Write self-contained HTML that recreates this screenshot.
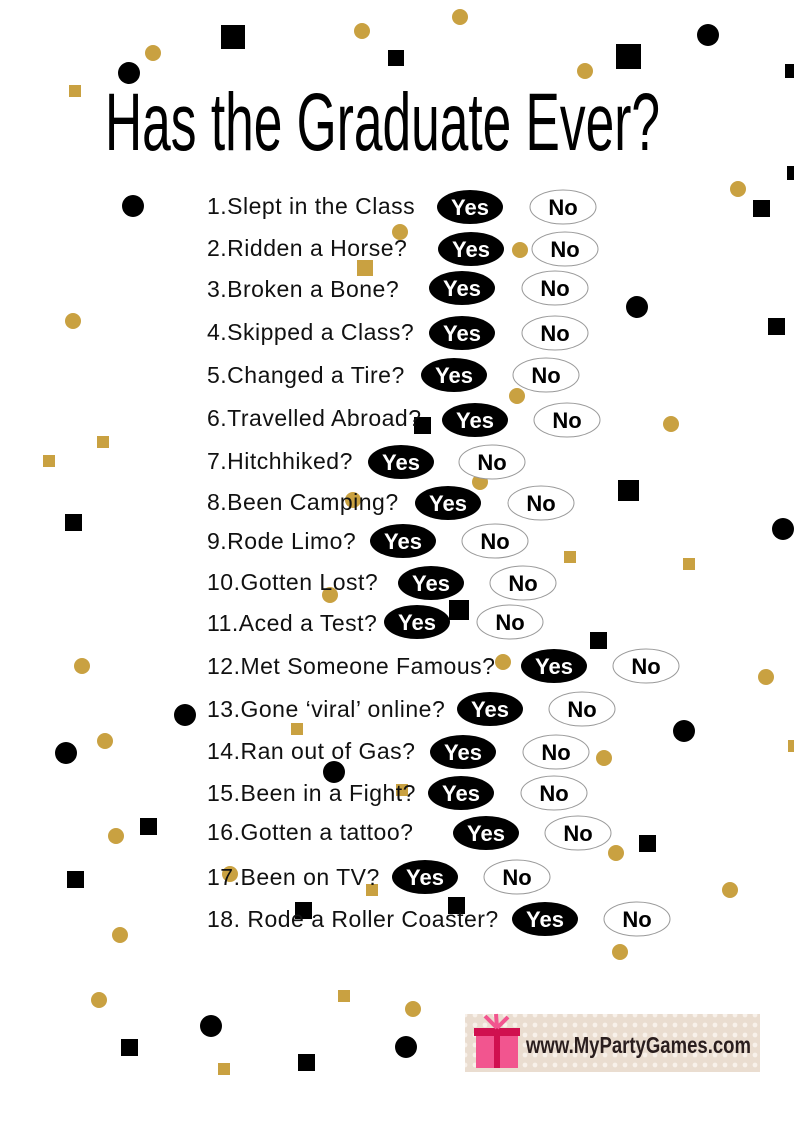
<!DOCTYPE html>
<html><head><meta charset="utf-8"><style>
html,body{margin:0;padding:0;background:#fff}
svg{display:block}
</style></head><body>
<svg width="794" height="1122" viewBox="0 0 794 1122" xmlns="http://www.w3.org/2000/svg">
<defs>
<pattern id="dots" width="10" height="10" patternUnits="userSpaceOnUse">
<rect width="10" height="10" fill="#eaddd0"/><circle cx="5" cy="5" r="2.4" fill="#f8f1ea"/>
</pattern>
</defs>
<g fill="#c9a141">
<circle cx="460" cy="17" r="8"/><circle cx="153" cy="53" r="8"/><circle cx="362" cy="31" r="8"/><circle cx="585" cy="71" r="8"/>
<rect x="69" y="85" width="12" height="12"/><circle cx="738" cy="189" r="8"/><circle cx="73" cy="321" r="8"/>
<circle cx="400" cy="232" r="8"/><circle cx="520" cy="250" r="8"/><rect x="357" y="260" width="16" height="16"/>
<circle cx="517" cy="396" r="8"/><circle cx="671" cy="424" r="8"/><rect x="97" y="436" width="12" height="12"/>
<rect x="43" y="455" width="12" height="12"/><circle cx="480" cy="482" r="8"/><rect x="564" y="551" width="12" height="12"/>
<rect x="683" y="558" width="12" height="12"/><circle cx="330" cy="595" r="8"/><circle cx="82" cy="666" r="8"/>
<circle cx="503" cy="662" r="8"/><circle cx="766" cy="677" r="8"/><rect x="291" y="723" width="12" height="12"/>
<circle cx="105" cy="741" r="8"/><circle cx="604" cy="758" r="8"/><rect x="396" y="784" width="12" height="12"/>
<circle cx="116" cy="836" r="8"/><circle cx="616" cy="853" r="8"/><circle cx="230" cy="874" r="8"/>
<rect x="366" y="884" width="12" height="12"/><circle cx="730" cy="890" r="8"/><circle cx="120" cy="935" r="8"/>
<circle cx="620" cy="952" r="8"/><circle cx="99" cy="1000" r="8"/><rect x="338" y="990" width="12" height="12"/>
<circle cx="413" cy="1009" r="8"/><rect x="218" y="1063" width="12" height="12"/><circle cx="353" cy="500" r="8"/>
<rect x="788" y="740" width="8" height="12"/>
</g>
<g fill="#000">
<circle cx="129" cy="73" r="11"/><rect x="221" y="25" width="24" height="24"/><rect x="388" y="50" width="16" height="16"/>
<rect x="616" y="44" width="25" height="25"/><circle cx="708" cy="35" r="11"/><circle cx="133" cy="206" r="11"/>
<rect x="753" y="200" width="17" height="17"/><circle cx="637" cy="307" r="11"/><rect x="768" y="318" width="17" height="17"/>
<circle cx="783" cy="529" r="11"/><rect x="618" y="480" width="21" height="21"/><rect x="65" y="514" width="17" height="17"/>
<rect x="449" y="600" width="20" height="20"/><rect x="590" y="632" width="17" height="17"/><circle cx="185" cy="715" r="11"/>
<circle cx="66" cy="753" r="11"/><circle cx="684" cy="731" r="11"/><circle cx="334" cy="772" r="11"/>
<rect x="140" y="818" width="17" height="17"/><rect x="639" y="835" width="17" height="17"/><rect x="67" y="871" width="17" height="17"/>
<rect x="295" y="902" width="17" height="17"/><rect x="448" y="897" width="17" height="17"/><circle cx="211" cy="1026" r="11"/>
<circle cx="406" cy="1047" r="11"/><rect x="121" y="1039" width="17" height="17"/><rect x="298" y="1054" width="17" height="17"/>
<rect x="414" y="417" width="17" height="17"/><rect x="785" y="64" width="12" height="14"/><rect x="787" y="166" width="10" height="14"/>
</g>
<text x="105" y="150" font-family="'Liberation Sans Narrow','Liberation Sans',sans-serif" font-size="82" textLength="555" lengthAdjust="spacingAndGlyphs" fill="#000">Has the Graduate Ever?</text>
<g font-family="'Liberation Sans',sans-serif" font-size="23" letter-spacing="0.5" fill="#111">
<text x="207" y="214">1.Slept in the Class</text>
<text x="207" y="256">2.Ridden a Horse?</text>
<text x="207" y="297">3.Broken a Bone?</text>
<text x="207" y="340">4.Skipped a Class?</text>
<text x="207" y="383">5.Changed a Tire?</text>
<text x="207" y="426">6.Travelled Abroad?</text>
<text x="207" y="469">7.Hitchhiked?</text>
<text x="207" y="510">8.Been Camping?</text>
<text x="207" y="549">9.Rode Limo?</text>
<text x="207" y="590">10.Gotten Lost?</text>
<text x="207" y="631">11.Aced a Test?</text>
<text x="207" y="674">12.Met Someone Famous?</text>
<text x="207" y="717">13.Gone ‘viral’ online?</text>
<text x="207" y="759">14.Ran out of Gas?</text>
<text x="207" y="801">15.Been in a Fight?</text>
<text x="207" y="840">16.Gotten a tattoo?</text>
<text x="207" y="885">17.Been on TV?</text>
<text x="207" y="927">18. Rode a Roller Coaster?</text>
</g>
<g font-family="'Liberation Sans',sans-serif" font-size="22" font-weight="bold" text-anchor="middle">
<g transform="translate(470,207)"><ellipse rx="33" ry="17" fill="#000"/><text y="8" fill="#fff">Yes</text></g><g transform="translate(563,207)"><ellipse rx="33" ry="17" fill="#fff" stroke="#999"/><text y="8" fill="#000">No</text></g>
<g transform="translate(471,249)"><ellipse rx="33" ry="17" fill="#000"/><text y="8" fill="#fff">Yes</text></g><g transform="translate(565,249)"><ellipse rx="33" ry="17" fill="#fff" stroke="#999"/><text y="8" fill="#000">No</text></g>
<g transform="translate(462,288)"><ellipse rx="33" ry="17" fill="#000"/><text y="8" fill="#fff">Yes</text></g><g transform="translate(555,288)"><ellipse rx="33" ry="17" fill="#fff" stroke="#999"/><text y="8" fill="#000">No</text></g>
<g transform="translate(462,333)"><ellipse rx="33" ry="17" fill="#000"/><text y="8" fill="#fff">Yes</text></g><g transform="translate(555,333)"><ellipse rx="33" ry="17" fill="#fff" stroke="#999"/><text y="8" fill="#000">No</text></g>
<g transform="translate(454,375)"><ellipse rx="33" ry="17" fill="#000"/><text y="8" fill="#fff">Yes</text></g><g transform="translate(546,375)"><ellipse rx="33" ry="17" fill="#fff" stroke="#999"/><text y="8" fill="#000">No</text></g>
<g transform="translate(475,420)"><ellipse rx="33" ry="17" fill="#000"/><text y="8" fill="#fff">Yes</text></g><g transform="translate(567,420)"><ellipse rx="33" ry="17" fill="#fff" stroke="#999"/><text y="8" fill="#000">No</text></g>
<g transform="translate(401,462)"><ellipse rx="33" ry="17" fill="#000"/><text y="8" fill="#fff">Yes</text></g><g transform="translate(492,462)"><ellipse rx="33" ry="17" fill="#fff" stroke="#999"/><text y="8" fill="#000">No</text></g>
<g transform="translate(448,503)"><ellipse rx="33" ry="17" fill="#000"/><text y="8" fill="#fff">Yes</text></g><g transform="translate(541,503)"><ellipse rx="33" ry="17" fill="#fff" stroke="#999"/><text y="8" fill="#000">No</text></g>
<g transform="translate(403,541)"><ellipse rx="33" ry="17" fill="#000"/><text y="8" fill="#fff">Yes</text></g><g transform="translate(495,541)"><ellipse rx="33" ry="17" fill="#fff" stroke="#999"/><text y="8" fill="#000">No</text></g>
<g transform="translate(431,583)"><ellipse rx="33" ry="17" fill="#000"/><text y="8" fill="#fff">Yes</text></g><g transform="translate(523,583)"><ellipse rx="33" ry="17" fill="#fff" stroke="#999"/><text y="8" fill="#000">No</text></g>
<g transform="translate(417,622)"><ellipse rx="33" ry="17" fill="#000"/><text y="8" fill="#fff">Yes</text></g><g transform="translate(510,622)"><ellipse rx="33" ry="17" fill="#fff" stroke="#999"/><text y="8" fill="#000">No</text></g>
<g transform="translate(554,666)"><ellipse rx="33" ry="17" fill="#000"/><text y="8" fill="#fff">Yes</text></g><g transform="translate(646,666)"><ellipse rx="33" ry="17" fill="#fff" stroke="#999"/><text y="8" fill="#000">No</text></g>
<g transform="translate(490,709)"><ellipse rx="33" ry="17" fill="#000"/><text y="8" fill="#fff">Yes</text></g><g transform="translate(582,709)"><ellipse rx="33" ry="17" fill="#fff" stroke="#999"/><text y="8" fill="#000">No</text></g>
<g transform="translate(463,752)"><ellipse rx="33" ry="17" fill="#000"/><text y="8" fill="#fff">Yes</text></g><g transform="translate(556,752)"><ellipse rx="33" ry="17" fill="#fff" stroke="#999"/><text y="8" fill="#000">No</text></g>
<g transform="translate(461,793)"><ellipse rx="33" ry="17" fill="#000"/><text y="8" fill="#fff">Yes</text></g><g transform="translate(554,793)"><ellipse rx="33" ry="17" fill="#fff" stroke="#999"/><text y="8" fill="#000">No</text></g>
<g transform="translate(486,833)"><ellipse rx="33" ry="17" fill="#000"/><text y="8" fill="#fff">Yes</text></g><g transform="translate(578,833)"><ellipse rx="33" ry="17" fill="#fff" stroke="#999"/><text y="8" fill="#000">No</text></g>
<g transform="translate(425,877)"><ellipse rx="33" ry="17" fill="#000"/><text y="8" fill="#fff">Yes</text></g><g transform="translate(517,877)"><ellipse rx="33" ry="17" fill="#fff" stroke="#999"/><text y="8" fill="#000">No</text></g>
<g transform="translate(545,919)"><ellipse rx="33" ry="17" fill="#000"/><text y="8" fill="#fff">Yes</text></g><g transform="translate(637,919)"><ellipse rx="33" ry="17" fill="#fff" stroke="#999"/><text y="8" fill="#000">No</text></g>
</g>
<rect x="465" y="1014" width="295" height="58" fill="url(#dots)"/>
<rect x="476" y="1031" width="42" height="37" fill="#f2558f"/>
<rect x="474" y="1028" width="46" height="8" fill="#d0104f"/>
<rect x="494" y="1028" width="6" height="40" fill="#d0104f"/>
<path d="M497 1028 L485 1016 M497 1028 L496 1014 M497 1028 L508 1017" stroke="#f2558f" stroke-width="4"/>
<text x="526" y="1053" font-family="'Liberation Sans Narrow','Liberation Sans',sans-serif" font-size="23" font-weight="bold" fill="#2a1e1e" textLength="225" lengthAdjust="spacingAndGlyphs">www.MyPartyGames.com</text>
</svg>
</body></html>
